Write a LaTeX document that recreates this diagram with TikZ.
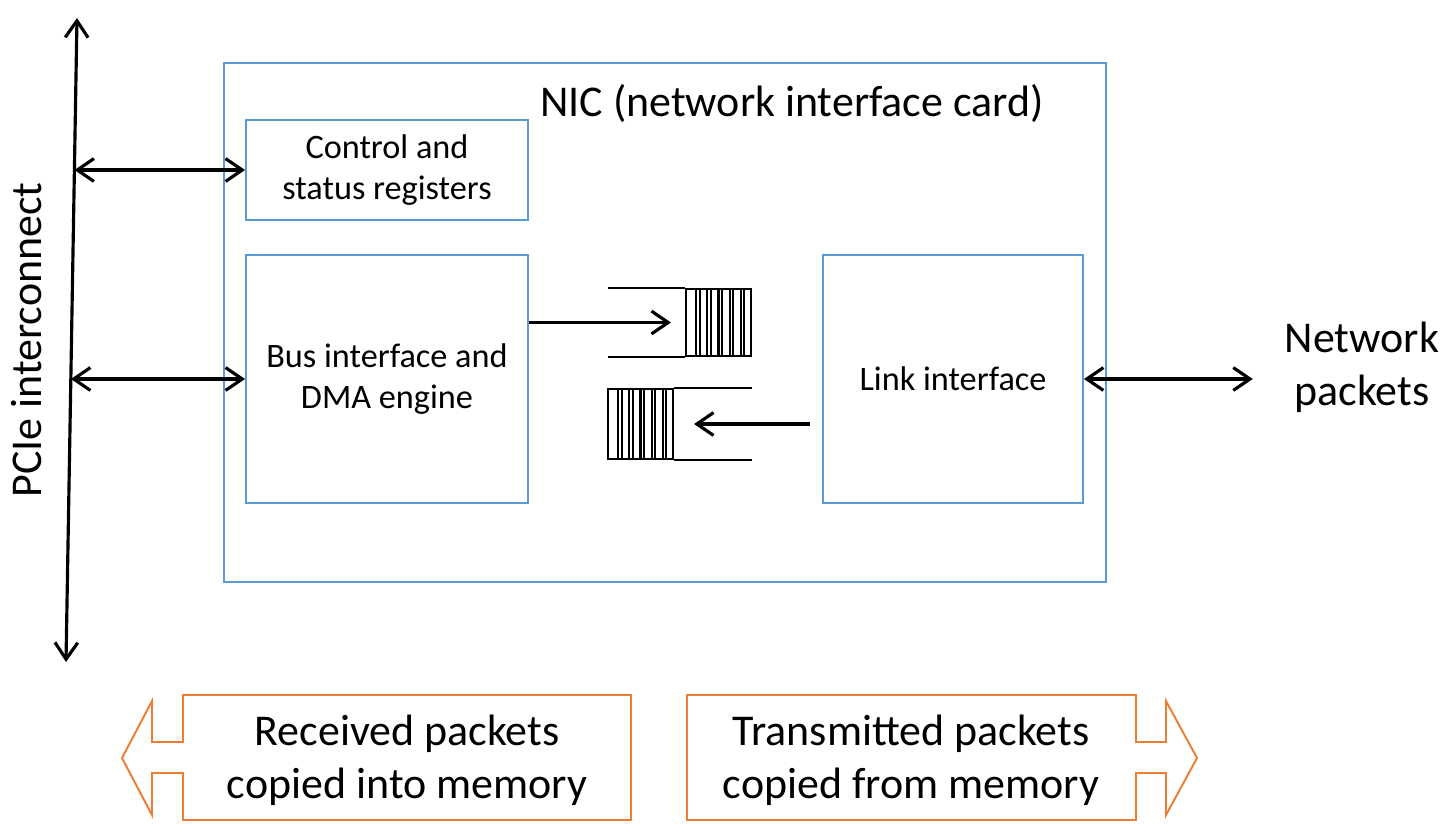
\documentclass[tikz,border=0pt]{standalone}
\usepackage{fontspec}
\setmainfont{Carlito}
\usetikzlibrary{arrows.meta, calc, positioning}
\definecolor{NICblue}{HTML}{5B9BD5}
\definecolor{CopyOrange}{HTML}{ED7D31}
\newcommand{\bigtext}{\fontsize{25}{30}\selectfont}
\newcommand{\boxtext}{\fontsize{19.5}{23.5}\selectfont}
\tikzset{next/.style={->, line width=1.8pt}}
\tikzset{both/.style={<->, line width=1.8pt}}
\tikzset{unit/.style={rectangle, draw=NICblue, line width=1.1pt, inner sep=0pt, align=center, font=\boxtext}}
\tikzset{fifo/.style={rectangle, draw, line width=1.2pt, minimum width=1.3cm, inner sep=0pt}}
\tikzset{copybox/.style={draw=CopyOrange, line width=1.1pt}}

\begin{document}
\begin{tikzpicture}[x=0.02cm, y=-0.02cm, >={Straight Barb[length=9.5pt, width=13pt]}]
  \useasboundingbox (0,0) rectangle (1452,831);

  % --- card and its units ---
  \node[unit, minimum width=17.64cm, minimum height=10.38cm] (nic) at (665,322.5) {};
  \node[font=\bigtext, anchor=base] (title) at (792,117) {NIC (network interface card)};
  \node[unit, minimum width=5.64cm, minimum height=2cm] (csr) at (387,170) {Control and\\status registers};
  \node[unit, minimum width=5.64cm, minimum height=4.96cm] (dma) at (387,379) {Bus interface and\\DMA engine};
  \node[unit, minimum width=5.2cm, minimum height=4.96cm] (link) at (953,379) {Link interface};

  % --- queues ---
  \node[fifo, minimum height=1.34cm] (qtx) at (718.5,322.5) {};
  \node[fifo, minimum height=1.4cm] (qrx) at (640.5,424) {};
  \foreach \q in {qtx, qrx}
    \foreach \i in {1,...,5} {
      \draw[line width=1.3pt] ($(\q.south west)!\i/6!(\q.south east)$) -- ($(\q.north west)!\i/6!(\q.north east)$);
      \draw[line width=1pt] ($(\q.south west)!\i/6!(\q.south east)+(3.5,0)$) -- ($(\q.north west)!\i/6!(\q.north east)+(3.5,0)$);
    }
  \draw[line width=1.2pt] (qtx.north west) -- ++(-77,0) (qtx.south west) -- ++(-77,0);
  \draw[line width=1.2pt] (qrx.north east) -- ++(78,0) (qrx.south east) -- ++(78,0);

  \draw[next, shorten >=0.28cm] (dma.east |- qtx.center) -- (qtx.west);
  \draw[next, shorten <=0.24cm, shorten >=0.4cm] (link.west |- qrx.center) -- (qrx.east);

  % --- PCIe side ---
  \coordinate (ptop) at (77,18);
  \coordinate (pbot) at (66,662);
  \draw[both] (pbot) -- (ptop);
  \node[font=\bigtext, rotate=90] (pcie) at (27,340) {PCIe interconnect};
  \coordinate (pcsr) at ($(ptop)!(csr.west)!(pbot)$);
  \coordinate (pdma) at ($(ptop)!(dma.west)!(pbot)$);
  \draw[both] (pcsr |- csr.west) -- (csr.west);
  \draw[both] (pdma |- dma.west) -- (dma.west);

  % --- network side ---
  \node[font=\bigtext, align=center] (net) at (1362,367) {Network\\packets};
  \draw[both, shorten >=0.52cm] (link.east) -- (link.east -| net.west);

  % --- copy directions ---
  \draw[copybox] (183,695) -- (631,695) -- (631,820) -- (183,820) -- (183,773) -- (152,773) -- (152,815)
    -- (122,758) -- (152,701) -- (152,742) -- (183,742) -- cycle;
  \node[font=\bigtext, align=center] (rx) at (407,760) {Received packets\\copied into memory};

  \draw[copybox] (687,695) -- (1136,695) -- (1136,742) -- (1166,742) -- (1166,701) -- (1197,758)
    -- (1166,815) -- (1166,773) -- (1136,773) -- (1136,820) -- (687,820) -- cycle;
  \node[font=\bigtext, align=center] (tx) at (911,760) {Transmitted packets\\copied from memory};
\end{tikzpicture}
\end{document}
